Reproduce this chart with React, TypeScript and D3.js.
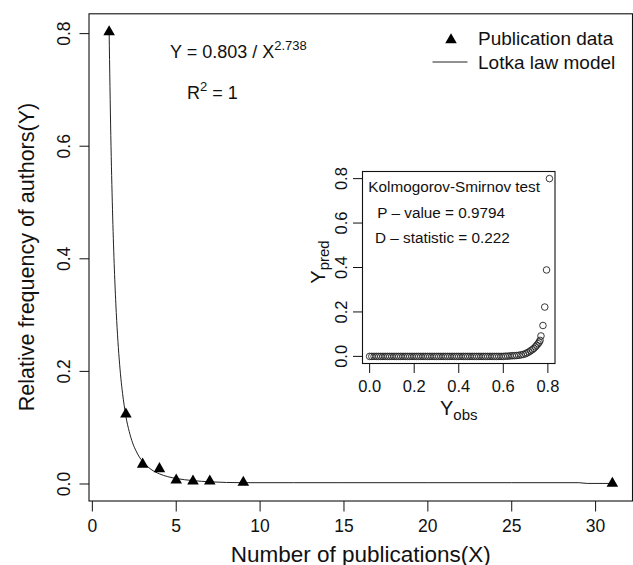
import React from "react";
import * as d3 from "d3";

// publication data (triangles)
const pubX = [1, 2, 3, 4, 5, 6, 7, 9, 31];
const pubY = [0.803, 0.124, 0.035, 0.027, 0.007, 0.005, 0.005, 0.003, 0.001];

// Lotka law model line
const modelX = [1, 1.1, 1.2, 1.3, 1.4, 1.5, 1.6, 1.7, 1.8, 1.9, 2, 2.2, 2.4, 2.6, 2.8, 3, 3.5, 4, 4.5, 5, 6, 7, 8, 9, 12, 15, 20, 25, 29, 29.5, 31];
const modelY = [0.803, 0.619, 0.488, 0.392, 0.32, 0.265, 0.222, 0.188, 0.161, 0.139, 0.12, 0.093, 0.073, 0.059, 0.048, 0.04, 0.026, 0.018, 0.013, 0.0098, 0.006, 0.0039, 0.0027, 0.0023, 0.0023, 0.0023, 0.0023, 0.0023, 0.0023, 0.001, 0.001];

const xTicks = [0, 5, 10, 15, 20, 25, 30];
const yTicks = [0, 0.2, 0.4, 0.6, 0.8];

// Kolmogorov-Smirnov inset: observed vs predicted
const ksObs = [
  0.0, 0.01, 0.02, 0.03, 0.04, 0.05, 0.06, 0.07, 0.08, 0.09, 0.1, 0.11, 0.12, 0.13, 0.14, 0.15,
  0.16, 0.17, 0.18, 0.19, 0.2, 0.21, 0.22, 0.23, 0.24, 0.25, 0.26, 0.27, 0.28, 0.29, 0.3, 0.31,
  0.32, 0.33, 0.34, 0.35, 0.36, 0.37, 0.38, 0.39, 0.4, 0.41, 0.42, 0.43, 0.44, 0.45, 0.46, 0.47,
  0.48, 0.49, 0.5, 0.51, 0.52, 0.53, 0.54, 0.55, 0.56, 0.57, 0.58, 0.59, 0.6, 0.61, 0.62,
  0.63, 0.64, 0.65, 0.66, 0.67, 0.68, 0.69, 0.7, 0.707, 0.715, 0.722, 0.73, 0.737, 0.744, 0.75,
  0.756, 0.761, 0.765, 0.769, 0.778, 0.786, 0.794, 0.807
];
const ksPred = [
  0, 0, 0, 0, 0, 0, 0, 0, 0, 0, 0, 0, 0, 0, 0, 0,
  0, 0, 0, 0, 0, 0, 0, 0, 0, 0, 0, 0, 0, 0, 0, 0,
  0, 0, 0, 0, 0, 0, 0, 0, 0, 0, 0, 0, 0, 0, 0, 0,
  0, 0, 0, 0, 0, 0, 0, 0, 0, 0, 0, 0, 0, 0.001, 0.001,
  0.002, 0.003, 0.003, 0.004, 0.005, 0.007, 0.009, 0.012, 0.016, 0.02, 0.025, 0.03, 0.036, 0.043, 0.05,
  0.057, 0.064, 0.072, 0.092, 0.139, 0.222, 0.389, 0.8
];
const ksTicks = [0, 0.2, 0.4, 0.6, 0.8];

const font = "'Liberation Sans', Arial, Helvetica, sans-serif";

export default function App() {
  const x = d3.scaleLinear().domain([-0.2, 32.2]).range([89, 632.5]);
  const y = d3.scaleLinear().domain([-0.0302, 0.8352]).range([501, 13.8]);

  const ix = d3.scaleLinear().domain([-0.032, 0.832]).range([362.5, 555]);
  const iy = d3.scaleLinear().domain([-0.032, 0.832]).range([363.5, 171.5]);

  const modelPts: [number, number][] = modelX.map((d, i) => [d, modelY[i]]);
  const line = d3
    .line<[number, number]>()
    .x((d) => x(d[0]))
    .y((d) => y(d[1]))
    .curve(d3.curveMonotoneX);

  const tri = d3.symbol().type(d3.symbolTriangle).size(58)();

  const fmt = d3.format(".1f");

  return (
    <svg
      width={633}
      height={565}
      style={{ position: "absolute", left: 0, top: 0, background: "#fff" }}
      fontFamily={font}
    >
      <rect width={633} height={565} fill="#fff" />

      {/* main plot frame */}
      <rect x={x(-0.2)} y={y(0.8352)} width={x(32.2) - x(-0.2)} height={y(-0.0302) - y(0.8352)} fill="none" stroke="#111" strokeWidth={1.1} />

      {/* x axis */}
      {xTicks.map((t) => (
        <g key={"xt" + t}>
          <line x1={x(t)} x2={x(t)} y1={501} y2={511.5} stroke="#111" strokeWidth={1} />
          <text x={x(t)} y={531.5} textAnchor="middle" fontSize={17.5} fill="#111">
            {t}
          </text>
        </g>
      ))}
      <text x={(x(-0.2) + x(32.2)) / 2} y={561.5} textAnchor="middle" fontSize={22.5} fill="#111">
        Number of publications(X)
      </text>

      {/* y axis */}
      {yTicks.map((t) => (
        <g key={"yt" + t}>
          <line x1={79.5} x2={89} y1={y(t)} y2={y(t)} stroke="#111" strokeWidth={1} />
          <text
            x={64}
            y={y(t)}
            transform={`rotate(-90, 64, ${y(t)})`}
            textAnchor="middle"
            dominantBaseline="central"
            fontSize={17.5}
            fill="#111"
          >
            {fmt(t)}
          </text>
        </g>
      ))}
      <text
        x={27}
        y={257}
        transform="rotate(-90, 27, 257)"
        textAnchor="middle"
        dominantBaseline="central"
        fontSize={21.5}
        fill="#111"
      >
        Relative frequency of authors(Y)
      </text>

      {/* model line */}
      <path d={line(modelPts) || ""} fill="none" stroke="#222" strokeWidth={1} />

      {/* data triangles */}
      {pubX.map((d, i) => (
        <path key={"p" + i} d={tri || ""} transform={`translate(${x(d)},${y(pubY[i])})`} fill="#000" />
      ))}

      {/* formula */}
      <text x={170} y={58} fontSize={18} fill="#111">
        Y = 0.803 / X
        <tspan fontSize={13} dy={-8}>2.738</tspan>
      </text>
      <text x={187} y={98.5} fontSize={18} fill="#111">
        R
        <tspan fontSize={13} dy={-8}>2</tspan>
        <tspan dy={8}> = 1</tspan>
      </text>

      {/* legend */}
      <path d={tri || ""} transform={`translate(451,40)`} fill="#000" />
      <text x={478} y={38} dominantBaseline="central" fontSize={19} fill="#111">
        Publication data
      </text>
      <line x1={432.5} x2={467.5} y1={62} y2={62} stroke="#222" strokeWidth={1} />
      <text x={478} y={62} dominantBaseline="central" fontSize={19} fill="#111">
        Lotka law model
      </text>

      {/* inset */}
      <rect x={ix(-0.032)} y={iy(0.832)} width={ix(0.832) - ix(-0.032)} height={iy(-0.032) - iy(0.832)} fill="#fff" stroke="#111" strokeWidth={1.1} />
      {ksTicks.map((t) => (
        <g key={"ix" + t}>
          <line x1={ix(t)} x2={ix(t)} y1={363.5} y2={373} stroke="#111" strokeWidth={1} />
          <text x={ix(t)} y={391.5} textAnchor="middle" fontSize={16.5} fill="#111">
            {fmt(t)}
          </text>
          <line x1={353} x2={362.5} y1={iy(t)} y2={iy(t)} stroke="#111" strokeWidth={1} />
          <text
            x={341}
            y={iy(t)}
            transform={`rotate(-90, 341, ${iy(t)})`}
            textAnchor="middle"
            dominantBaseline="central"
            fontSize={16.5}
            fill="#111"
          >
            {fmt(t)}
          </text>
        </g>
      ))}
      {ksObs.map((d, i) => (
        <circle key={"k" + i} cx={ix(d)} cy={iy(ksPred[i])} r={3.3} fill="none" stroke="#222" strokeWidth={0.9} />
      ))}
      <text x={368.3} y={186} dominantBaseline="central" fontSize={15.3} fill="#111">
        Kolmogorov-Smirnov test
      </text>
      <text x={377.3} y={212.5} dominantBaseline="central" fontSize={15.3} fill="#111">
        P – value = 0.9794
      </text>
      <text x={375} y={237.5} dominantBaseline="central" fontSize={15.3} fill="#111">
        D – statistic = 0.222
      </text>
      <text x={ix(0.4)} y={415} textAnchor="middle" fontSize={20} fill="#111">
        Y<tspan fontSize={15} dy={5}>obs</tspan>
      </text>
      <text
        x={318}
        y={262}
        transform="rotate(-90, 318, 262)"
        textAnchor="middle"
        dominantBaseline="central"
        fontSize={20}
        fill="#111"
      >
        Y<tspan fontSize={15} dy={5}>pred</tspan>
      </text>
    </svg>
  );
}
